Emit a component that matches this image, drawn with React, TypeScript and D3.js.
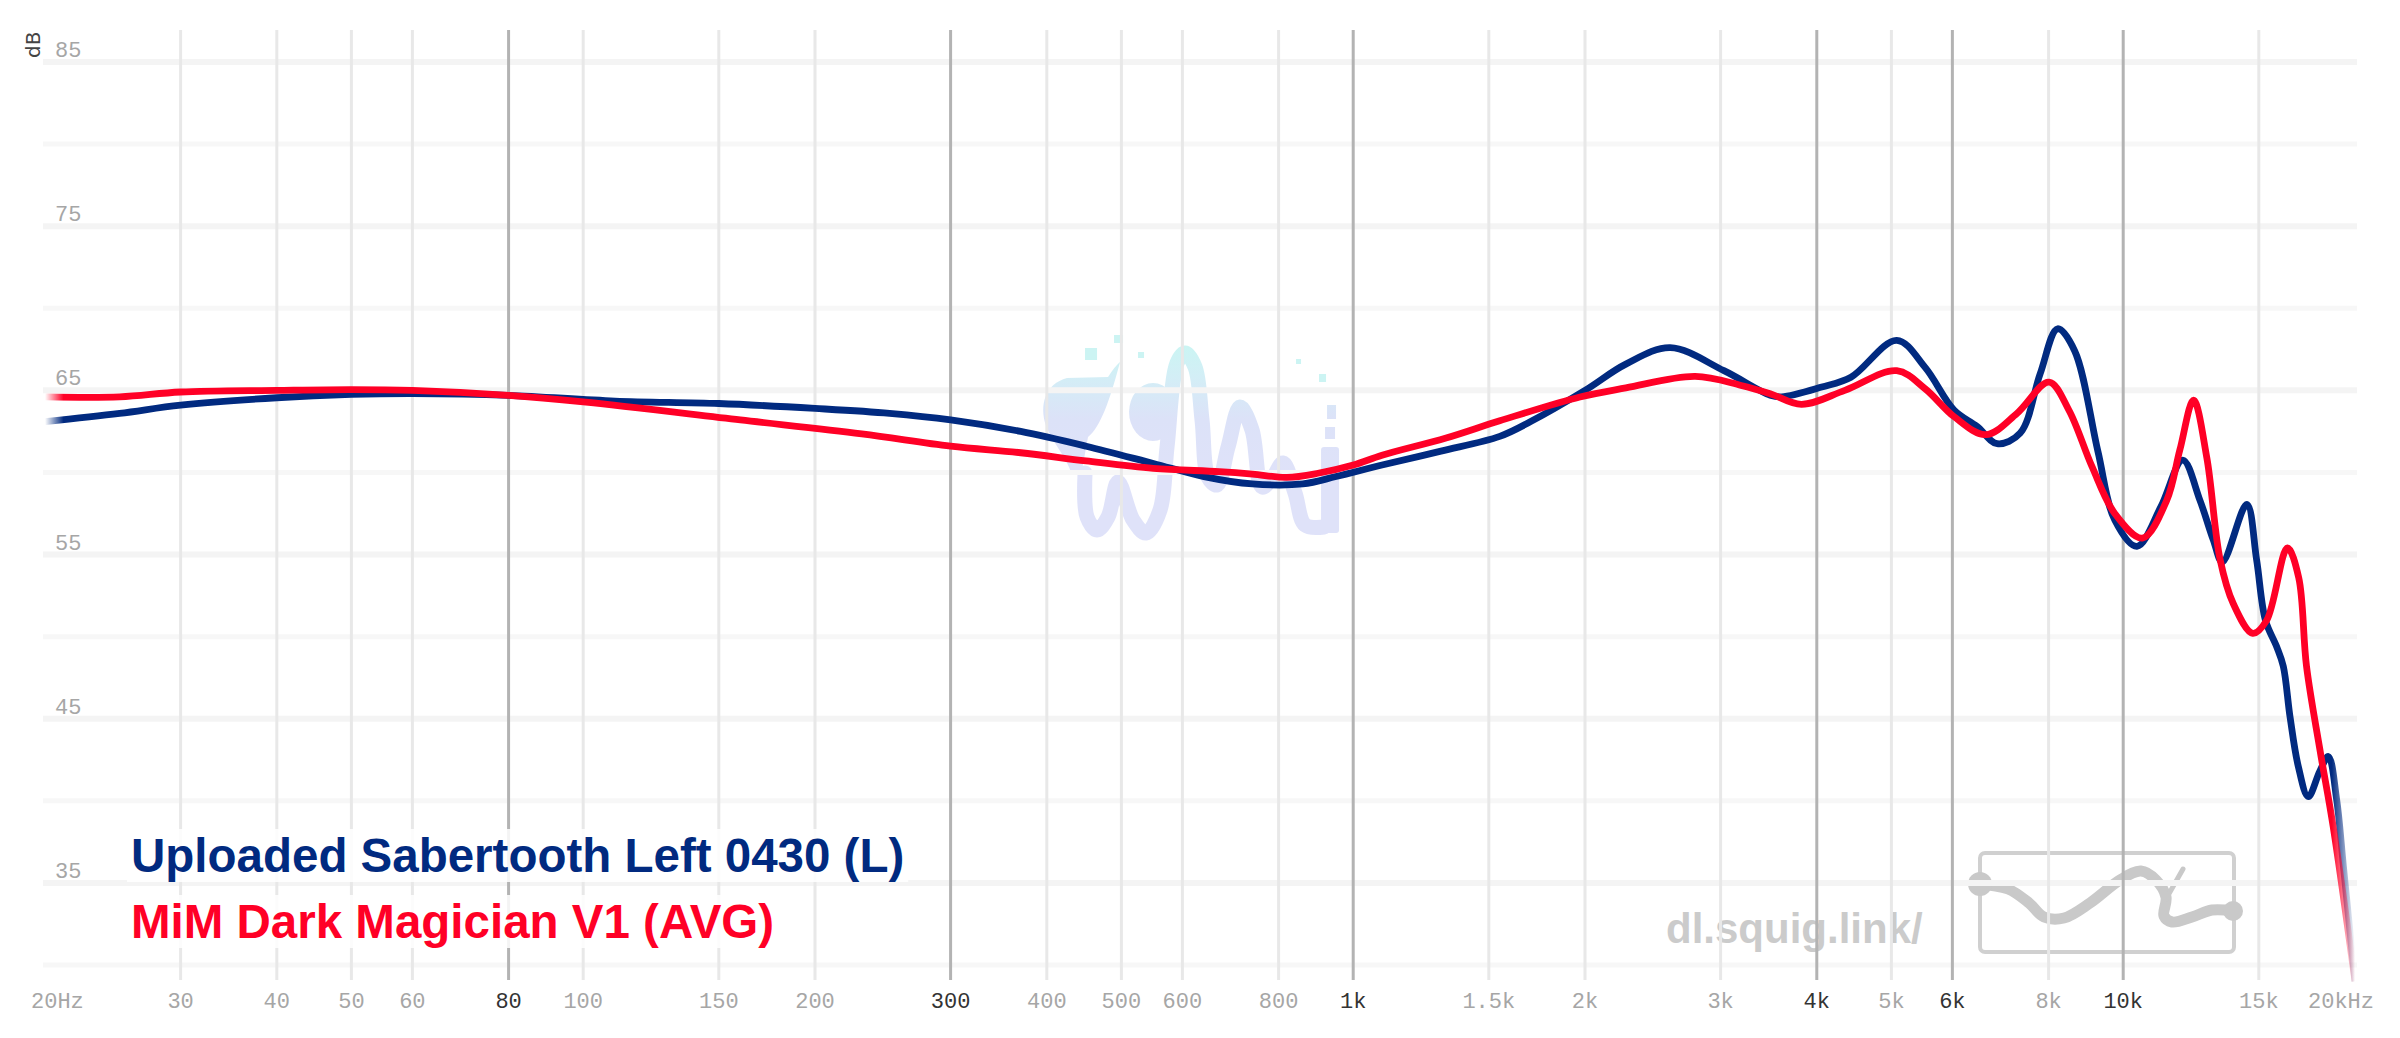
import React, { useEffect, useRef } from "react";
import * as d3 from "d3";

const W = 2400;
const H = 1038;

// Uploaded Sabertooth Left 0430 (L): frequency (Hz) and level (dB)
const sabertoothFreq = [
  20, 25, 30, 40, 50, 60, 80, 110, 150, 200, 250, 300, 370, 450, 550, 640, 740,
  860, 950, 1090, 1300, 1550, 1700, 2000, 2260, 2580, 3030, 3480, 3600, 4060,
  4430, 5080, 5530, 6030, 6460, 6860, 7350, 7800, 8220, 8650, 9270, 9750, 10420,
  11190, 11950, 12580, 13090, 13450, 14470, 14900, 15300, 15820, 16140, 16470,
  16880, 17390, 18000, 18470, 18930, 19320, 20000,
];
const sabertoothDb = [
  63.1, 63.6, 64.1, 64.55, 64.75, 64.8, 64.7, 64.35, 64.2, 63.9, 63.6, 63.2,
  62.5, 61.6, 60.55, 59.75, 59.3, 59.3, 59.75, 60.45, 61.3, 62.2, 63.1, 65.0,
  66.6, 67.6, 66.2, 64.7, 64.6, 65.2, 65.8, 68.05, 66.4, 63.8, 62.8, 61.75, 62.4,
  66.0, 68.75, 67.4, 61.3, 57.1, 55.5, 57.9, 60.75, 58.3, 55.9, 54.55, 58.05,
  54.7, 51.0, 49.4, 48.2, 45.1, 42.1, 40.25, 41.8, 42.7, 40.1, 36.0, 29.0,
];

// MiM Dark Magician V1 (AVG)
const magicianFreq = [
  20, 25, 30, 40, 50, 60, 80, 100, 160, 230, 300, 370, 450, 550, 670, 740, 820,
  900, 1000, 1090, 1320, 1550, 1970, 2260, 2780, 3190, 3480, 3820, 4350, 5080,
  5530, 6030, 6630, 7280, 8010, 8500, 9110, 9750, 10590, 11390, 11850, 12340,
  12840, 13360, 13900, 14730, 15360, 16340, 16900, 17300, 18010, 18740, 20000,
];
const magicianDb = [
  64.6, 64.6, 64.9, 65.0, 65.05, 65.0, 64.7, 64.3, 63.2, 62.35, 61.6, 61.2,
  60.7, 60.25, 60.05, 59.9, 59.7, 59.95, 60.45, 61.05, 62.1, 63.15, 64.6, 65.15,
  65.85, 65.3, 64.8, 64.15, 65.0, 66.2, 65.1, 63.4, 62.3, 63.6, 65.5, 63.8,
  60.35, 57.5, 56.0, 58.3, 61.4, 64.4, 60.9, 54.7, 52.0, 50.2, 51.0, 55.4, 53.6,
  48.2, 43.1, 38.4, 29.0,
];

const seriesNames = ["Uploaded Sabertooth Left 0430 (L)", "MiM Dark Magician V1 (AVG)"];
const seriesColors = ["#012a80", "#ff0026"];

const xTicks = [
  20, 30, 40, 50, 60, 80, 100, 150, 200, 300, 400, 500, 600, 800, 1000, 1500,
  2000, 3000, 4000, 5000, 6000, 8000, 10000, 15000, 20000,
];
const xTickLabels = [
  "20Hz", "30", "40", "50", "60", "80", "100", "150", "200", "300", "400", "500",
  "600", "800", "1k", "1.5k", "2k", "3k", "4k", "5k", "6k", "8k", "10k", "15k",
  "20kHz",
];
const xStrongTicks = [80, 300, 1000, 4000, 6000, 10000];
const yGridValues = [30, 35, 40, 45, 50, 55, 60, 65, 70, 75, 80, 85];
const yLabelValues = [35, 45, 55, 65, 75, 85];

const App = () => {
  const ref = useRef<SVGSVGElement | null>(null);

  useEffect(() => {
    const svg = d3.select(ref.current);
    svg.selectAll("*").remove();

    const x = d3.scaleLog().domain([20, 20000]).range([45, 2355]);
    const y = d3.scaleLinear().domain([30, 85]).range([965, 62]);

    const mono = "'Liberation Mono', 'DejaVu Sans Mono', monospace";
    const sans = "'Liberation Sans', Arial, Helvetica, sans-serif";

    svg.append("rect").attr("width", W).attr("height", H).attr("fill", "#fff");

    const defs = svg.append("defs");

    // watermark gradient (cyan on top, lavender below), in the logo's own units
    const wg = defs
      .append("linearGradient")
      .attr("id", "wm-grad")
      .attr("gradientUnits", "userSpaceOnUse")
      .attr("x1", 0)
      .attr("x2", 0)
      .attr("y1", 0)
      .attr("y2", 140);
    wg.append("stop").attr("offset", 0).attr("stop-color", "#c8f7f2");
    wg.append("stop").attr("offset", 0.3).attr("stop-color", "#d3eef6");
    wg.append("stop").attr("offset", 0.6).attr("stop-color", "#dce2f8");
    wg.append("stop").attr("offset", 1).attr("stop-color", "#dfe2f9");

    // ---- centre watermark (earphone + cable)
    const wm = svg
      .append("g")
      .attr("transform", `translate(${x(392)},335)`)
      .attr("fill", "url(#wm-grad)");

    wm.append("path")
      .attr(
        "d",
        "M27,43 L68,42 Q75,31 80,27 C70,65 60,93 48,102 L41,140 L32,140 C26,121 12,107 6,91 C-1,70 5,49 27,43 Z"
      );
    wm.append("ellipse").attr("cx", 113).attr("cy", 77).attr("rx", 24).attr("ry", 29);
    wm.append("ellipse")
      .attr("cx", 129)
      .attr("cy", 77)
      .attr("rx", 6)
      .attr("ry", 12)
      .attr("fill", "#fff");

    const cablePts: [number, number][] = [
      [45, 138], [47, 182], [57, 195], [68, 182], [78, 147], [93, 185], [106, 198],
      [120, 175], [127, 112], [137, 28], [145, 18], [155, 32], [162, 85], [168, 142],
      [177, 150], [188, 112], [200, 72], [212, 95], [222, 152], [233, 142], [243, 128],
      [255, 158], [265, 190], [284, 192],
    ];
    wm.append("path")
      .attr("d", d3.line().curve(d3.curveCatmullRom.alpha(0.5))(cablePts))
      .attr("fill", "none")
      .attr("stroke", "url(#wm-grad)")
      .attr("stroke-width", 15)
      .attr("stroke-linecap", "round");
    wm.append("rect").attr("x", 281).attr("y", 112).attr("width", 18).attr("height", 86).attr("rx", 3);
    wm.append("rect").attr("x", 285).attr("y", 92).attr("width", 10).attr("height", 12);
    wm.append("rect").attr("x", 287).attr("y", 70).attr("width", 9).attr("height", 14);
    [
      [45, 13, 12, 12],
      [74, 0, 9, 8],
      [98, 17, 6, 6],
      [256, 24, 5, 5],
      [279, 39, 7, 8],
    ].forEach(([a, b, w, h]) => {
      wm.append("rect").attr("x", a).attr("y", b).attr("width", w).attr("height", h).attr("fill", "#ccf4f3");
    });

    // ---- bottom right watermark
    svg
      .append("text")
      .attr("x", 1666)
      .attr("y", 943)
      .attr("font-family", sans)
      .attr("font-weight", "bold")
      .attr("font-size", 42)
      .attr("fill", "#cbcbcb")
      .text("dl.squig.link/");

    const logo = svg.append("g").attr("transform", "translate(1980,853)");
    logo
      .append("rect")
      .attr("width", 254)
      .attr("height", 99)
      .attr("rx", 5)
      .attr("fill", "none")
      .attr("stroke", "#d0d0d0")
      .attr("stroke-width", 4);
    const squigPts: [number, number][] = [
      [-2, 31], [28, 36], [49, 50], [64, 64], [84, 65], [110, 50], [140, 27], [161, 18],
      [176, 27], [186, 44], [184, 63], [192, 69], [212, 64], [232, 57], [254, 58],
    ];
    logo
      .append("path")
      .attr("d", d3.line().curve(d3.curveCatmullRom.alpha(0.5))(squigPts))
      .attr("fill", "none")
      .attr("stroke", "#c9c9c9")
      .attr("stroke-width", 11)
      .attr("stroke-linecap", "round");
    logo.append("circle").attr("cx", 0).attr("cy", 31).attr("r", 12).attr("fill", "#c9c9c9");
    logo.append("circle").attr("cx", 253).attr("cy", 58).attr("r", 10).attr("fill", "#c9c9c9");
    logo
      .append("line")
      .attr("x1", 203)
      .attr("y1", 16)
      .attr("x2", 186)
      .attr("y2", 46)
      .attr("stroke", "#c9c9c9")
      .attr("stroke-width", 5)
      .attr("stroke-linecap", "round");

    // ---- grid
    const grid = svg.append("g");
    yGridValues.forEach((v) => {
      const labelled = yLabelValues.includes(v);
      grid
        .append("line")
        .attr("x1", 43)
        .attr("x2", 2357)
        .attr("y1", y(v))
        .attr("y2", y(v))
        .attr("stroke", labelled ? "#f4f4f4" : "#f7f7f7")
        .attr("stroke-width", labelled ? 6 : 5);
    });
    xTicks
      .filter((f) => f > 20 && f < 20000)
      .forEach((f) => {
        const strong = xStrongTicks.includes(f);
        grid
          .append("line")
          .attr("x1", x(f))
          .attr("x2", x(f))
          .attr("y1", 30)
          .attr("y2", 980)
          .attr("stroke", strong ? "#b3b3b3" : "#e8e8e8")
          .attr("stroke-width", 3);
      });

    // ---- axis labels
    const axis = svg.append("g").attr("font-family", mono).attr("font-size", 22);
    xTicks.forEach((f, i) => {
      const strong = xStrongTicks.includes(f);
      const t = axis
        .append("text")
        .attr("y", 1008)
        .attr("fill", strong ? "#333" : "#a6a6a6")
        .text(xTickLabels[i]);
      if (i === 0) t.attr("x", 31).attr("text-anchor", "start");
      else if (i === xTicks.length - 1) t.attr("x", 2374).attr("text-anchor", "end");
      else t.attr("x", x(f)).attr("text-anchor", "middle");
    });
    yLabelValues.forEach((v) => {
      axis
        .append("text")
        .attr("x", 55)
        .attr("y", y(v) - 5)
        .attr("fill", "#a6a6a6")
        .text(String(v));
    });
    svg
      .append("text")
      .attr("transform", "translate(40,58) rotate(-90)")
      .attr("font-family", "'DejaVu Sans', sans-serif")
      .attr("font-size", 20)
      .attr("fill", "#444")
      .text("dB");

    // ---- curves, faded at both ends
    const line = d3
      .line<[number, number]>()
      .x((d) => x(d[0]))
      .y((d) => y(d[1]))
      .curve(d3.curveCatmullRom.alpha(0.5));

    const series: [number, number][][] = [
      sabertoothFreq.map((f, i) => [f, sabertoothDb[i]]),
      magicianFreq.map((f, i) => [f, magicianDb[i]]),
    ];

    series.forEach((pts, i) => {
      const g = defs
        .append("linearGradient")
        .attr("id", `grad-${i}`)
        .attr("gradientUnits", "userSpaceOnUse")
        .attr("x1", x(20))
        .attr("x2", x(20000))
        .attr("y1", 0)
        .attr("y2", 0);
      [
        [0, 0],
        [0.008, 1],
        [0.99, 1],
        [1, 0],
      ].forEach(([o, a]) => {
        g.append("stop")
          .attr("offset", o)
          .attr("stop-color", seriesColors[i])
          .attr("stop-opacity", a);
      });

      svg
        .append("path")
        .attr("d", line(pts))
        .attr("fill", "none")
        .attr("stroke", `url(#grad-${i})`)
        .attr("stroke-width", 6.8)
        .attr("stroke-linejoin", "round");
    });

    // ---- legend
    const legendY = [872, 938];
    seriesNames.forEach((name, i) => {
      const lg = svg.append("g");
      const bg = lg.append("rect").attr("fill", "#fff").attr("opacity", 0.85);
      const t = lg
        .append("text")
        .attr("x", 131)
        .attr("y", legendY[i])
        .attr("font-family", sans)
        .attr("font-weight", "bold")
        .attr("font-size", 47.5)
        .attr("fill", seriesColors[i])
        .text(name);
      const b = (t.node() as SVGTextElement).getBBox();
      bg.attr("x", b.x - 4)
        .attr("y", b.y)
        .attr("width", b.width + 8)
        .attr("height", b.height);
    });
  }, []);

  return (
    <svg
      ref={ref}
      width={W}
      height={H}
      style={{ position: "absolute", left: 0, top: 0, display: "block" }}
    />
  );
};

export default App;
